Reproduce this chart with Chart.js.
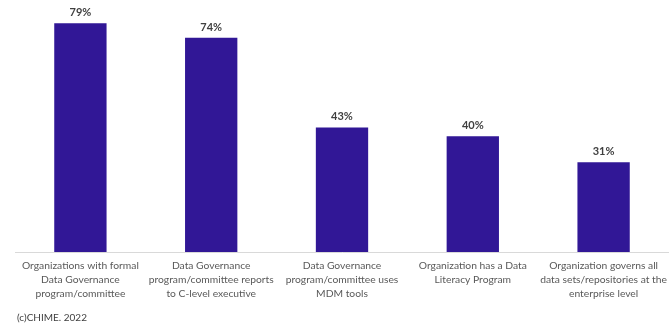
<!DOCTYPE html>
<html>
<head>
<meta charset="utf-8">
<script src="https://cdn.jsdelivr.net/npm/chart.js@4.4.1/dist/chart.umd.min.js"></script>
<style>
  html, body { margin: 0; padding: 0; background: #fff; }
  #wrap { position: relative; width: 669px; height: 324px; }
  #note { position: absolute; left: 17px; top: 311px; font: 10px Lato, sans-serif; color: #404040; }
</style>
</head>
<body>
<div id="wrap">
  <canvas id="myChart" width="669" height="324"></canvas>
  <div id="note">(c)CHIME. 2022</div>
</div>
<script>
'use strict';

let categories = [
    ['Organizations with formal', 'Data Governance', 'program/committee'],
    ['Data Governance', 'program/committee reports', 'to C-level executive'],
    ['Data Governance', 'program/committee uses', 'MDM tools'],
    ['Organization has a Data', 'Literacy Program'],
    ['Organization governs all', 'data sets/repositories at the', 'enterprise level']
];
let percents = [79, 74, 43, 40, 31];
let barColor = '#311796';

// writes the value over each bar
let valueLabels = {
    id: 'valueLabels',
    afterDatasetsDraw(chart) {
        let ctx = chart.ctx;
        let meta = chart.getDatasetMeta(0);
        ctx.save();
        ctx.font = 'bold 11px Lato, sans-serif';
        ctx.fillStyle = '#404040';
        ctx.textAlign = 'center';
        ctx.textBaseline = 'bottom';
        for (let i = 0; i < meta.data.length; i++) {
            let bar = meta.data[i];
            ctx.fillText(percents[i] + '%', bar.x, bar.y - 5);
        }
        ctx.restore();
    }
};

let ctx = document.getElementById('myChart').getContext('2d');
let myChart = new Chart(ctx, {
    type: 'bar',
    data: {
        labels: categories,
        datasets: [{
            data: percents,
            backgroundColor: barColor,
            barPercentage: 0.4,
            categoryPercentage: 1
        }]
    },
    options: {
        responsive: false,
        animation: false,
        layout: { padding: { left: 15, right: 0, top: 0, bottom: 16 } },
        plugins: {
            legend: { display: false },
            tooltip: { enabled: false }
        },
        scales: {
            x: {
                grid: { display: false, drawTicks: false },
                border: { color: '#d9d9d9', width: 1 },
                ticks: {
                    color: '#595959',
                    padding: 7,
                    maxRotation: 0,
                    autoSkip: false,
                    font: { family: 'Lato, sans-serif', size: 10.3, lineHeight: '14px' }
                },
                // let the outer labels run to the edges instead of squeezing the bars
                afterFit(scale) {
                    scale.paddingLeft = 0;
                    scale.paddingRight = 0;
                }
            },
            y: {
                display: false,
                min: 0,
                max: 87
            }
        }
    },
    plugins: [valueLabels]
});
</script>
</body>
</html>
